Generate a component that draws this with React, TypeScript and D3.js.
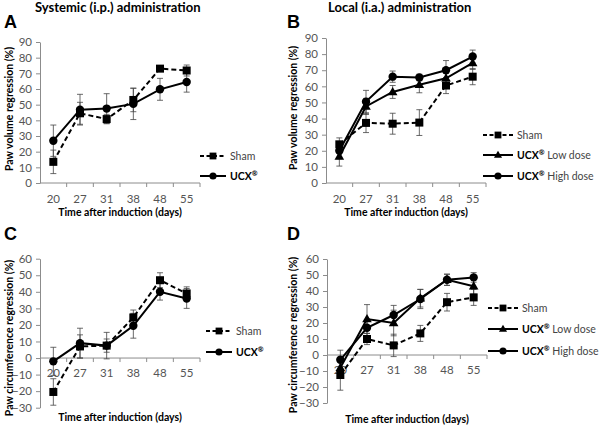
import React, { useEffect, useRef } from 'react';
import * as d3 from 'd3';

// days after induction
const days = ['20', '27', '31', '38', '48', '55'];

// A: systemic, paw volume regression (%)
const aSham = [13.5, 44.5, 40.8, 53, 73, 71.8];
const aShamErr = [7.5, 7, 3, 7.5, 1.5, 3.5];
const aUcx = [27, 46.8, 47.5, 50.5, 59.8, 64.5];
const aUcxErr = [10, 9.8, 9.5, 10, 7, 6.5];

// B: local, paw volume regression (%)
const bSham = [24, 37.3, 36.8, 37.5, 60.5, 66];
const bShamErr = [4, 6, 6.5, 8, 5, 5];
const bLow = [16.5, 47.5, 56.5, 61, 65, 74.5];
const bLowErr = [6, 5, 4, 5, 4, 4];
const bHigh = [20, 50.5, 66, 65.5, 70, 78.5];
const bHighErr = [5, 7, 3.5, 2, 6, 4];

// C: systemic, paw circumference regression (%)
const cSham = [-20.5, 7, 7.5, 24.5, 47, 39];
const cShamErr = [8, 7, 4, 4.5, 4.5, 4];
const cUcx = [-2, 9, 7.5, 19.5, 40, 36];
const cUcxErr = [8.5, 9, 8, 7.5, 5, 6];

// D: local, paw circumference regression (%)
const dSham = [-12.5, 10, 6, 13.5, 33, 36];
const dShamErr = [9.5, 3.5, 7, 5, 5.5, 5];
const dLow = [-8, 22.5, 20, 35.5, 47, 43];
const dLowErr = [5, 9, 8, 5.5, 3.5, 5];
const dHigh = [-3, 17, 25, 35, 47, 48.5];
const dHighErr = [6, 5, 6, 6, 3.5, 3];

const yTicksVol = d3.range(0, 91, 10);
const yTicksCirc = d3.range(-30, 61, 10);

const FONT = 'Lato, "Open Sans", sans-serif';

type Series = { name: string; bold?: string; marker: 'square' | 'circle' | 'triangle'; dashed: boolean; values: number[]; err: number[] };

type PanelCfg = {
  letter: string; lx: number; ly: number;
  x0: number; x1: number; yTop: number; yBot: number;
  domain: [number, number]; ticks: number[];
  ytitle: string; ytx: number; ytcy: number;
  xtitleY: number; xlabelY: number | null;
  legX: number; legY: number[];
  series: Series[];
};

const panels: PanelCfg[] = [
  {
    letter: 'A', lx: 4, ly: 28, x0: 40, x1: 200, yTop: 42, yBot: 183, domain: [0, 90], ticks: yTicksVol,
    ytitle: 'Paw volume regression (%)', ytx: 13, ytcy: 109, xtitleY: 216, xlabelY: 203,
    legX: 200, legY: [156, 176],
    series: [
      { name: 'Sham', marker: 'square', dashed: true, values: aSham, err: aShamErr },
      { name: '', bold: 'UCX', marker: 'circle', dashed: false, values: aUcx, err: aUcxErr },
    ],
  },
  {
    letter: 'B', lx: 287, ly: 28, x0: 326, x1: 486, yTop: 38, yBot: 183, domain: [0, 90], ticks: yTicksVol,
    ytitle: 'Paw volume regression (%)', ytx: 297, ytcy: 108, xtitleY: 216, xlabelY: 203,
    legX: 483, legY: [135, 155, 176],
    series: [
      { name: 'Sham', marker: 'square', dashed: true, values: bSham, err: bShamErr },
      { name: ' Low dose', bold: 'UCX', marker: 'triangle', dashed: false, values: bLow, err: bLowErr },
      { name: ' High dose', bold: 'UCX', marker: 'circle', dashed: false, values: bHigh, err: bHighErr },
    ],
  },
  {
    letter: 'C', lx: 4, ly: 240, x0: 40, x1: 200, yTop: 258.7, yBot: 407.7, domain: [-30, 60], ticks: yTicksCirc,
    ytitle: 'Paw circumference regression (%)', ytx: 13, ytcy: 338, xtitleY: 421, xlabelY: null,
    legX: 206, legY: [331, 352],
    series: [
      { name: 'Sham', marker: 'square', dashed: true, values: cSham, err: cShamErr },
      { name: '', bold: 'UCX', marker: 'circle', dashed: false, values: cUcx, err: cUcxErr },
    ],
  },
  {
    letter: 'D', lx: 287, ly: 240, x0: 327, x1: 487, yTop: 259, yBot: 403, domain: [-30, 60], ticks: yTicksCirc,
    ytitle: 'Paw circumference regression (%)', ytx: 297, ytcy: 335, xtitleY: 423, xlabelY: null,
    legX: 488, legY: [308, 329, 351],
    series: [
      { name: 'Sham', marker: 'square', dashed: true, values: dSham, err: dShamErr },
      { name: ' Low dose', bold: 'UCX', marker: 'triangle', dashed: false, values: dLow, err: dLowErr },
      { name: ' High dose', bold: 'UCX', marker: 'circle', dashed: false, values: dHigh, err: dHighErr },
    ],
  },
];

function drawMarker(g: any, kind: string, x: number, y: number, size = 1) {
  if (kind === 'square') {
    const h = 4 * size;
    g.append('rect').attr('x', x - h).attr('y', y - h).attr('width', 2 * h).attr('height', 2 * h).attr('fill', '#000');
  } else if (kind === 'circle') {
    g.append('circle').attr('cx', x).attr('cy', y).attr('r', 4.2 * size).attr('fill', '#000');
  } else {
    g.append('path').attr('d', d3.symbol(d3.symbolTriangle, 40 * size * size)()).attr('transform', `translate(${x},${y + 0.5})`).attr('fill', '#000');
  }
}

const App = () => {
  const ref = useRef<SVGSVGElement>(null);

  useEffect(() => {
    const svg = d3.select(ref.current);
    svg.selectAll('*').remove();

    panels.forEach(p => {
      const g = svg.append('g');
      const x = d3.scaleBand().domain(days).range([p.x0, p.x1]);
      const y = d3.scaleLinear().domain(p.domain).range([p.yBot, p.yTop]);
      const cx = (d: string) => (x(d) as number) + x.bandwidth() / 2;

      // panel letter
      g.append('text').attr('x', p.lx).attr('y', p.ly).text(p.letter)
        .attr('font-family', 'Arial, "Liberation Sans", sans-serif').attr('font-weight', 'bold').attr('font-size', 18);

      // y axis
      const yAxis = d3.axisLeft(y).tickValues(p.ticks).tickSize(4).tickSizeOuter(0).tickPadding(4);
      const ya = g.append('g').attr('transform', `translate(${p.x0},0)`).call(yAxis);
      ya.select('.domain').attr('stroke', '#8c8c8c');
      ya.selectAll('line').attr('stroke', '#8c8c8c');
      ya.selectAll('text').attr('font-family', FONT).attr('font-size', 11.5).attr('fill', '#555');

      // x axis line at zero with boundary ticks
      const y0 = y(0);
      g.append('line').attr('x1', p.x0).attr('x2', p.x1).attr('y1', y0).attr('y2', y0).attr('stroke', '#8c8c8c');
      days.forEach(d => {
        const bx = (x(d) as number) + x.bandwidth();
        g.append('line').attr('x1', bx).attr('x2', bx).attr('y1', y0).attr('y2', y0 + 4).attr('stroke', '#8c8c8c');
      });
      const ly = p.xlabelY ?? y0 + 19;
      g.selectAll('.xl').data(days).enter().append('text')
        .attr('x', d => cx(d)).attr('y', ly).attr('text-anchor', 'middle').text(d => d)
        .attr('font-family', FONT).attr('font-size', 11.5).attr('fill', '#555');

      // axis titles
      g.append('text').attr('transform', `translate(${p.ytx},${p.ytcy}) rotate(-90)`).attr('text-anchor', 'middle')
        .text(p.ytitle).attr('font-family', FONT).attr('font-weight', 'bold').attr('font-size', 10.5);
      g.append('text').attr('x', (p.x0 + p.x1) / 2).attr('y', p.xtitleY).attr('text-anchor', 'middle')
        .text('Time after induction (days)').attr('font-family', FONT).attr('font-weight', 'bold').attr('font-size', 10.5);

      // error bars
      p.series.forEach(s => {
        s.values.forEach((v, i) => {
          const px = cx(days[i]);
          const lo = y(v - s.err[i]);
          const hi = y(v + s.err[i]);
          g.append('line').attr('x1', px).attr('x2', px).attr('y1', lo).attr('y2', hi).attr('stroke', '#444').attr('stroke-width', 0.8);
          [lo, hi].forEach(yy => g.append('line').attr('x1', px - 3).attr('x2', px + 3).attr('y1', yy).attr('y2', yy).attr('stroke', '#444').attr('stroke-width', 0.8));
        });
      });

      // lines and markers
      p.series.forEach(s => {
        const line = d3.line<number>().x((_, i) => cx(days[i])).y(v => y(v));
        g.append('path').attr('d', line(s.values)).attr('fill', 'none').attr('stroke', '#000').attr('stroke-width', 2)
          .attr('stroke-dasharray', s.dashed ? '5,3' : null);
        s.values.forEach((v, i) => drawMarker(g, s.marker, cx(days[i]), y(v)));
      });

      // legend
      p.series.forEach((s, k) => {
        const yy = p.legY[k];
        const lw = p.series.length === 3 ? 30 : 26;
        g.append('line').attr('x1', p.legX).attr('x2', p.legX + lw).attr('y1', yy).attr('y2', yy)
          .attr('stroke', '#000').attr('stroke-width', 2).attr('stroke-dasharray', s.dashed ? '4,2.5' : null);
        drawMarker(g, s.marker, p.legX + lw / 2, yy, 0.85);
        const t = g.append('text').attr('x', p.legX + lw + 4).attr('y', yy + 4)
          .attr('font-family', FONT).attr('font-size', 10.5).attr('fill', '#444');
        if (s.bold) {
          t.append('tspan').text(s.bold).attr('font-weight', 'bold').attr('fill', '#000');
          t.append('tspan').text('®').attr('font-weight', 'bold').attr('fill', '#000').attr('font-size', 7).attr('dy', -4);
          t.append('tspan').text(s.name).attr('dy', 4);
        } else {
          t.text(s.name);
        }
      });
    });

    // column titles
    svg.append('text').attr('x', 35).attr('y', 12).text('Systemic (i.p.) administration')
      .attr('font-family', FONT).attr('font-weight', 'bold').attr('font-size', 13);
    svg.append('text').attr('x', 328).attr('y', 12).text('Local (i.a.) administration')
      .attr('font-family', FONT).attr('font-weight', 'bold').attr('font-size', 13);
  }, []);

  return (
    <svg ref={ref} width={600} height={429}
      style={{ position: 'absolute', left: 0, top: 0, background: '#fff' }} />
  );
};

export default App;
